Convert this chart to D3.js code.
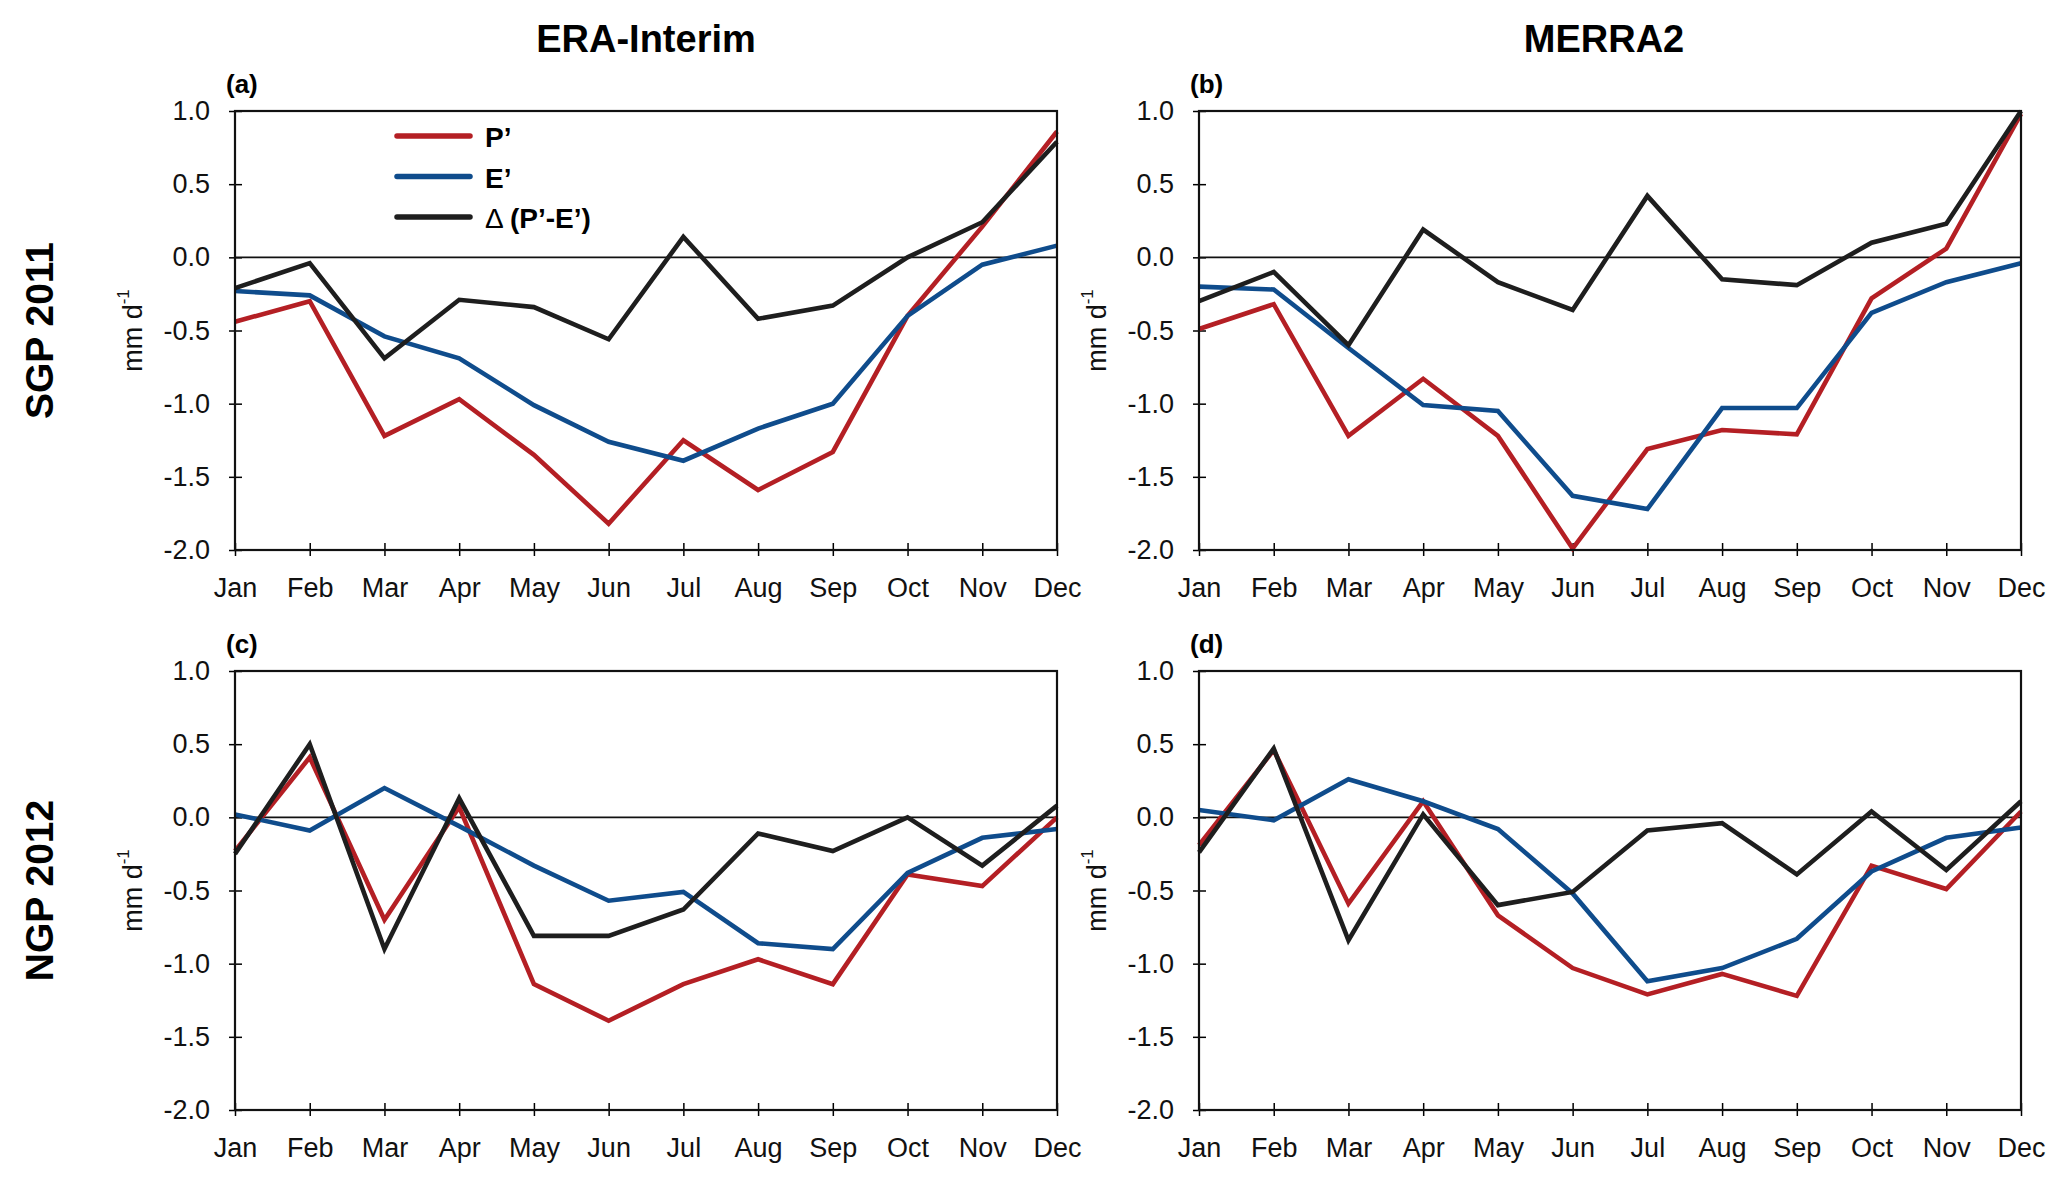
<!DOCTYPE html>
<html>
<head>
<meta charset="utf-8">
<script src="https://cdn.jsdelivr.net/npm/d3@7"></script>
<style>
  body { margin: 0; background: #fff; }
  svg { display: block; font-family: "Liberation Sans", Arial, Helvetica, sans-serif; }
</style>
</head>
<body>
<svg id="chart" width="2068" height="1187"></svg>
<script>
const months = ['Jan', 'Feb', 'Mar', 'Apr', 'May', 'Jun', 'Jul', 'Aug', 'Sep', 'Oct', 'Nov', 'Dec'];
const yTicks = [1.0, 0.5, 0.0, -0.5, -1.0, -1.5, -2.0];
const colTitles = ['ERA-Interim', 'MERRA2'];
const rowTitles = ['SGP 2011', 'NGP 2012'];
const panelLabels = ['(a)', '(b)', '(c)', '(d)'];
const seriesNames = ['P\u2019', 'E\u2019', '(P\u2019-E\u2019)'];

// (a) ERA-Interim, SGP 2011
const eraSgpP = [-0.44, -0.30, -1.22, -0.97, -1.35, -1.82, -1.25, -1.59, -1.33, -0.40, 0.21, 0.86];
const eraSgpE = [-0.23, -0.26, -0.54, -0.69, -1.01, -1.26, -1.39, -1.17, -1.00, -0.40, -0.05, 0.08];
const eraSgpD = [-0.21, -0.04, -0.69, -0.29, -0.34, -0.56, 0.14, -0.42, -0.33, 0.00, 0.24, 0.79];
// (b) MERRA2, SGP 2011
const merraSgpP = [-0.49, -0.32, -1.22, -0.83, -1.22, -1.99, -1.31, -1.18, -1.21, -0.28, 0.06, 0.98];
const merraSgpE = [-0.20, -0.22, -0.62, -1.01, -1.05, -1.63, -1.72, -1.03, -1.03, -0.38, -0.17, -0.04];
const merraSgpD = [-0.30, -0.10, -0.60, 0.19, -0.17, -0.36, 0.42, -0.15, -0.19, 0.10, 0.23, 1.00];
// (c) ERA-Interim, NGP 2012
const eraNgpP = [-0.23, 0.41, -0.70, 0.07, -1.14, -1.39, -1.14, -0.97, -1.14, -0.39, -0.47, 0.00];
const eraNgpE = [0.02, -0.09, 0.20, -0.06, -0.33, -0.57, -0.51, -0.86, -0.90, -0.38, -0.14, -0.08];
const eraNgpD = [-0.25, 0.50, -0.90, 0.13, -0.81, -0.81, -0.63, -0.11, -0.23, 0.00, -0.33, 0.08];
// (d) MERRA2, NGP 2012
const merraNgpP = [-0.19, 0.46, -0.59, 0.11, -0.67, -1.03, -1.21, -1.07, -1.22, -0.33, -0.49, 0.04];
const merraNgpE = [0.05, -0.02, 0.26, 0.11, -0.08, -0.52, -1.12, -1.03, -0.83, -0.37, -0.14, -0.07];
const merraNgpD = [-0.24, 0.47, -0.84, 0.02, -0.60, -0.51, -0.09, -0.04, -0.39, 0.04, -0.36, 0.11];

const colors = ['#b41f24', '#0f4c8c', '#1e1e1e'];

const panels = [
  {col: 0, row: 0, series: [eraSgpP, eraSgpE, eraSgpD]},
  {col: 1, row: 0, series: [merraSgpP, merraSgpE, merraSgpD]},
  {col: 0, row: 1, series: [eraNgpP, eraNgpE, eraNgpD]},
  {col: 1, row: 1, series: [merraNgpP, merraNgpE, merraNgpD]},
];

const colX = [235, 1199];
const rowY = [111, 671];
const pw = 822, ph = 439;
const titleShift = [0, -6];

const svg = d3.select('#chart');

const x = d3.scalePoint().domain(months).range([0, pw]);
const y = d3.scaleLinear().domain([-2, 1]).range([ph, 0]);

// column titles
colTitles.forEach((t, i) => {
  svg.append('text')
    .attr('x', colX[i] + pw / 2 + titleShift[i])
    .attr('y', 52)
    .attr('text-anchor', 'middle')
    .style('font-size', '38px')
    .style('font-weight', 'bold')
    .text(t);
});

// row titles
rowTitles.forEach((t, i) => {
  let cy = rowY[i] + ph / 2;
  svg.append('text')
    .attr('transform', 'translate(53,' + cy + ') rotate(-90)')
    .attr('text-anchor', 'middle')
    .style('font-size', '39px')
    .style('font-weight', 'bold')
    .text(t);
});

const line = d3.line()
  .x((d, i) => x(months[i]))
  .y(d => y(d));

panels.forEach((p, k) => {
  let g = svg.append('g')
    .attr('transform', 'translate(' + colX[p.col] + ',' + rowY[p.row] + ')');

  // y axis, ticks cross the frame
  let yAxis = g.append('g')
    .call(d3.axisLeft(y).tickValues(yTicks).tickSize(6).tickPadding(19)
      .tickFormat(d => d.toFixed(1)));
  yAxis.select('.domain').remove();
  yAxis.selectAll('.tick line').attr('x1', 7).attr('stroke-width', 1.5);
  yAxis.selectAll('.tick text')
    .style('font-size', '27px')
    .attr('fill', '#111');

  // x axis
  let xAxis = g.append('g')
    .attr('transform', 'translate(0,' + ph + ')')
    .call(d3.axisBottom(x).tickSize(6).tickPadding(10));
  xAxis.select('.domain').remove();
  xAxis.selectAll('.tick line').attr('y1', -7).attr('stroke-width', 1.5);
  xAxis.selectAll('.tick text')
    .attr('dy', null)
    .attr('y', 47)
    .style('font-size', '27px')
    .attr('fill', '#111');

  // zero line
  g.append('line')
    .attr('x1', 0).attr('x2', pw)
    .attr('y1', y(0)).attr('y2', y(0))
    .attr('stroke', '#111')
    .attr('stroke-width', 1.6);

  // series
  p.series.forEach((s, i) => {
    g.append('path')
      .datum(s)
      .attr('d', line)
      .attr('fill', 'none')
      .attr('stroke', colors[i])
      .attr('stroke-width', 4.6)
      .attr('stroke-linejoin', 'miter')
      .attr('stroke-miterlimit', 3);
  });

  // frame
  g.append('rect')
    .attr('width', pw).attr('height', ph)
    .attr('fill', 'none')
    .attr('stroke', '#111')
    .attr('stroke-width', 2.2);

  // panel label
  g.append('text')
    .attr('x', -9)
    .attr('y', -18)
    .style('font-size', '26px')
    .style('font-weight', 'bold')
    .text(panelLabels[k]);

  // y label: mm d^-1
  let yl = g.append('text')
    .attr('transform', 'translate(-93,' + (ph / 2) + ') rotate(-90)')
    .attr('text-anchor', 'middle')
    .style('font-size', '27px')
    .attr('fill', '#111');
  yl.append('tspan').text('mm d');
  yl.append('tspan')
    .attr('dy', -13)
    .style('font-size', '17px')
    .text('-1');

  // legend in panel (a)
  if (k == 0) {
    let lg = g.append('g').attr('transform', 'translate(162,25)');
    seriesNames.forEach((n, i) => {
      let ly = i * 40.5;
      lg.append('line')
        .attr('x1', 0).attr('x2', 73)
        .attr('y1', ly).attr('y2', ly)
        .attr('stroke', colors[i])
        .attr('stroke-width', 5.5)
        .attr('stroke-linecap', 'round');
      let t = lg.append('text')
        .attr('x', 88)
        .attr('y', ly + 11)
        .style('font-size', '28px')
        .style('font-weight', 'bold');
      if (i == 2) {
        t.append('tspan').style('font-weight', 'normal').text('\u0394 ');
      }
      t.append('tspan').text(n);
    });
  }
});
</script>
</body>
</html>
